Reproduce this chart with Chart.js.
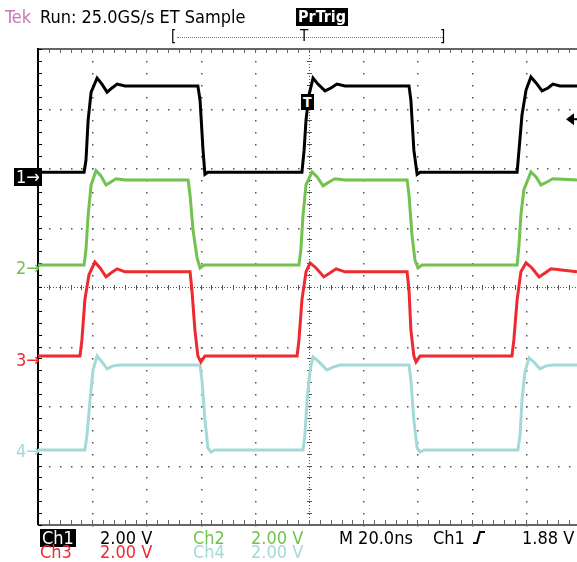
<!DOCTYPE html>
<html>
<head>
<meta charset="utf-8">
<script src="https://cdn.jsdelivr.net/npm/chart.js@4.4.0/dist/chart.umd.min.js"></script>
<style>
  html, body { margin: 0; padding: 0; background: #fff; }
  #wrap { position: relative; width: 577px; height: 562px; overflow: hidden;
          font-family: "DejaVu Sans Condensed", "DejaVu Sans", sans-serif; }
  #scope { position: absolute; left: 0; top: 0; }
  .t { position: absolute; white-space: nowrap; line-height: 1; }
  .hdr { font-size: 18px; top: 8px; }
  .l1 { font-size: 18px; top: 529px; }
  .l2 { font-size: 18px; top: 543px; }
  .inv { background: #000; color: #fff; padding: 0 2px; }
  .mk { font-size: 18px; }
</style>
</head>
<body>
<div id="wrap">
  <canvas id="scope" width="577" height="562"></canvas>

  <!-- header -->
  <div class="t hdr" style="left:5px;color:#c878b4">Tek</div>
  <div class="t hdr" style="left:40px">Run: 25.0GS/s ET Sample</div>
  <div class="t hdr inv" style="left:296px;font-size:16px;top:8px;height:18px;line-height:18px;font-weight:bold">PrTrig</div>
  <div class="t" style="left:171px;top:29px;font-size:15px">[</div>
  <div style="position:absolute;left:177px;top:37px;width:266px;border-top:1px dotted #777"></div>
  <div class="t" style="left:300px;top:29px;font-size:15px">T</div>
  <div class="t" style="left:440px;top:29px;font-size:15px">]</div>

  <!-- channel ground markers -->
  <div class="t mk inv" style="left:14px;top:168px;height:18px;line-height:18px">1→</div>
  <div class="t mk" style="left:16px;top:259px;color:#72c24f">2→</div>
  <div class="t mk" style="left:16px;top:351px;color:#ee2a2f">3→</div>
  <div class="t mk" style="left:16px;top:442px;color:#a3dad8">4→</div>

  <!-- trigger position box -->
  <div class="t inv" style="left:301px;top:94px;height:16px;line-height:16px;font-size:14px;font-weight:bold">T</div>

  <!-- readouts -->
  <div class="t l1 inv" style="left:40px">Ch1</div>
  <div class="t l1" style="left:100px">2.00 V</div>
  <div class="t l1" style="left:193px;color:#72c24f">Ch2</div>
  <div class="t l1" style="left:251px;color:#72c24f">2.00 V</div>
  <div class="t l1" style="left:339px">M 20.0ns</div>
  <div class="t l1" style="left:433px">Ch1</div>
  <svg style="position:absolute;left:472px;top:530px" width="14" height="15">
    <polyline points="1,13 5,13 8,2 13,2" fill="none" stroke="#000" stroke-width="2"/>
  </svg>
  <div class="t l1" style="left:522px">1.88 V</div>
  <div class="t l2" style="left:40px;color:#ee2a2f">Ch3</div>
  <div class="t l2" style="left:100px;color:#ee2a2f">2.00 V</div>
  <div class="t l2" style="left:193px;color:#a3dad8">Ch4</div>
  <div class="t l2" style="left:251px;color:#a3dad8">2.00 V</div>
</div>

<script>
// scope settings
const voltsPerDiv = 2;
const nsPerDiv = 20;
const channelColors = ['#000000', '#72c24f', '#ee2a2f', '#a3dad8'];
// ground markers, in divisions above screen centre
const channelOffsets = [1.93, 0.37, -1.16, -2.74];
const triggerLevel = 1.88; // volts, on Ch1

// waveforms: time in ns (0 = trigger), level in volts
const ch1Time  = [-100, -83.0, -82.3, -81.5, -80.4, -78.2, -76.4, -74.5, -72.7, -70.8, -67.9, -41.0, -40.2, -39.1, -38.4, -37.3,
                  -2.6, -1.8, -1.1, 0, 1.5, 3.3, 5.9, 8.1, 10.3, 13.3, 36.9, 37.6, 38.7, 39.9, 41.0,
                  76.8, 77.5, 78.6, 80.1, 81.9, 83.8, 86.0, 88.2, 90.0, 92.6, 98.9];
const ch1Volts = [0, 0, 0.40, 1.75, 2.69, 3.16, 2.96, 2.69, 2.83, 2.96, 2.90, 2.90, 2.42, 0.74, -0.07, 0,
                  0, 0.74, 1.75, 2.59, 3.16, 2.96, 2.73, 2.83, 2.96, 2.90, 2.90, 2.42, 0.74, -0.07, 0,
                  0, 0.74, 1.92, 2.76, 3.20, 3.00, 2.73, 2.83, 2.96, 2.90, 2.90];

const ch2Time  = [-100, -83.0, -82.3, -81.5, -80.4, -78.6, -76.8, -74.9, -73.1, -71.2, -67.9, -44.6, -43.9, -42.8, -41.3, -40.2, -38.7,
                  -3.7, -3.0, -2.2, -1.1, 1.1, 3.0, 5.2, 7.4, 9.6, 13.3, 36.2, 36.9, 38.0, 39.1, 40.2, 41.7,
                  76.8, 77.5, 78.2, 79.3, 81.9, 83.8, 85.6, 87.8, 90.0, 98.9];
const ch2Volts = [0, 0, 0.51, 1.68, 2.69, 3.17, 3.00, 2.69, 2.79, 2.90, 2.86, 2.86, 2.36, 1.18, 0.24, -0.10, 0,
                  0, 0.51, 1.68, 2.69, 3.13, 2.96, 2.66, 2.79, 2.90, 2.86, 2.86, 2.36, 1.01, 0.17, -0.10, 0,
                  0, 0.67, 1.68, 2.53, 3.13, 2.96, 2.69, 2.79, 2.90, 2.86];

const ch3Time  = [-100, -84.5, -83.8, -82.7, -81.2, -79.0, -77.1, -74.9, -73.1, -70.8, -67.9, -43.9, -43.2, -42.1, -41.0, -39.9, -38.4,
                  -4.4, -3.7, -2.6, -1.1, 0.4, 2.6, 5.5, 7.7, 10.0, 13.3, 36.2, 36.9, 37.6, 38.7, 39.5, 41.0,
                  74.9, 75.6, 76.8, 78.2, 80.1, 82.3, 84.9, 87.1, 89.3, 98.9];
const ch3Volts = [0, 0, 0.54, 1.89, 2.73, 3.16, 2.96, 2.66, 2.79, 2.93, 2.83, 2.83, 2.22, 0.88, 0, -0.20, 0,
                  0, 0.54, 1.89, 2.83, 3.13, 2.96, 2.66, 2.79, 2.93, 2.83, 2.83, 2.22, 0.88, 0, -0.20, 0,
                  0, 0.54, 1.89, 2.83, 3.13, 2.96, 2.66, 2.79, 2.93, 2.83];

const ch4Time  = [-100, -82.7, -81.9, -80.8, -79.7, -78.2, -76.4, -74.5, -72.3, -69.7, -40.2, -39.5, -38.4, -37.3, -36.2, -34.7,
                  -2.2, -1.5, -0.7, 0.4, 1.5, 3.7, 6.6, 8.9, 11.4, 36.9, 37.6, 38.7, 39.9, 41.0, 42.4,
                  77.1, 77.9, 78.6, 79.7, 81.2, 83.0, 85.2, 87.5, 90.0, 98.9];
const ch4Volts = [0, 0, 0.51, 1.68, 2.69, 3.16, 2.96, 2.73, 2.83, 2.86, 2.86, 2.36, 1.01, 0.07, -0.07, 0,
                  0, 0.51, 1.68, 2.69, 3.13, 2.96, 2.69, 2.79, 2.86, 2.86, 2.36, 1.01, 0.07, -0.07, 0,
                  0, 0.51, 1.68, 2.63, 3.10, 2.96, 2.73, 2.83, 2.86, 2.86];

const channelTimes = [ch1Time, ch2Time, ch3Time, ch4Time];
const channelVolts = [ch1Volts, ch2Volts, ch3Volts, ch4Volts];

// tek style graticule: dotted divisions, ticked centre cross and borders
const graticule = {
  id: 'graticule',
  beforeDatasetsDraw(chart) {
    const {ctx, chartArea: a, scales} = chart;
    const xs = scales.x, ys = scales.y;
    const minorX = [], minorY = [];
    for (let i = -25; i <= 25; i++) minorX.push(xs.getPixelForValue(i * nsPerDiv / 5));
    for (let i = -20; i <= 20; i++) minorY.push(ys.getPixelForValue(i / 5));
    ctx.save();
    ctx.fillStyle = '#555';
    // dotted major lines
    for (let d = -4; d <= 4; d++) {
      if (d === 0) continue;
      const px = Math.round(xs.getPixelForValue(d * nsPerDiv));
      minorY.forEach(py => ctx.fillRect(px, Math.round(py), 1.5, 1.5));
    }
    for (let d = -3; d <= 3; d++) {
      if (d === 0) continue;
      const py = Math.round(ys.getPixelForValue(d));
      minorX.forEach(px => ctx.fillRect(Math.round(px), py, 1.5, 1.5));
    }
    // centre cross
    const cx = Math.round(xs.getPixelForValue(0));
    const cy = Math.round(ys.getPixelForValue(0));
    for (let py = a.top; py <= a.bottom; py += 3) ctx.fillRect(cx, py, 1, 1);
    for (let px = a.left; px <= a.right; px += 3) ctx.fillRect(px, cy, 1, 1);
    minorY.forEach(py => ctx.fillRect(cx - 2, Math.round(py), 5, 1));
    minorX.forEach(px => ctx.fillRect(Math.round(px), cy - 2, 1, 5));
    // borders with minor ticks
    ctx.fillStyle = '#666';
    ctx.fillRect(a.left, a.top - 1, a.right - a.left, 2);
    ctx.fillRect(a.left, a.bottom - 1, a.right - a.left, 2);
    minorX.forEach(px => {
      ctx.fillRect(Math.round(px), a.top, 1, 4);
      ctx.fillRect(Math.round(px), a.bottom - 5, 1, 4);
    });
    ctx.fillStyle = '#000';
    ctx.fillRect(a.left - 1, a.top - 1, 2, a.bottom - a.top + 1);
    minorY.forEach(py => ctx.fillRect(a.left, Math.round(py), 4, 1));
    ctx.restore();
  },
  afterDatasetsDraw(chart) {
    // trigger level arrow at the right edge
    const {ctx, chartArea: a, scales} = chart;
    const py = scales.y.getPixelForValue(channelOffsets[0] + triggerLevel / voltsPerDiv) + 3;
    ctx.save();
    ctx.fillStyle = '#000';
    ctx.beginPath();
    ctx.moveTo(a.right - 11, py);
    ctx.lineTo(a.right - 3, py - 6);
    ctx.lineTo(a.right - 3, py + 6);
    ctx.closePath();
    ctx.fill();
    ctx.fillRect(a.right - 4, py - 1, 4, 2);
    ctx.restore();
  }
};

const datasets = channelTimes.map((times, c) => ({
  data: times.map((t, i) => ({x: t, y: channelOffsets[c] + channelVolts[c][i] / voltsPerDiv})),
  borderColor: channelColors[c],
  borderWidth: 3,
  pointRadius: 0,
  tension: 0
}));

new Chart(document.getElementById('scope'), {
  type: 'line',
  data: {datasets: datasets},
  options: {
    responsive: false,
    animation: false,
    layout: {padding: {left: 38, top: 49, right: 0, bottom: 37}},
    plugins: {legend: {display: false}, tooltip: {enabled: false}},
    scales: {
      x: {type: 'linear', min: -5 * nsPerDiv, max: 98.9, display: false},
      y: {type: 'linear', min: -4, max: 4, display: false}
    }
  },
  plugins: [graticule]
});
</script>
</body>
</html>
